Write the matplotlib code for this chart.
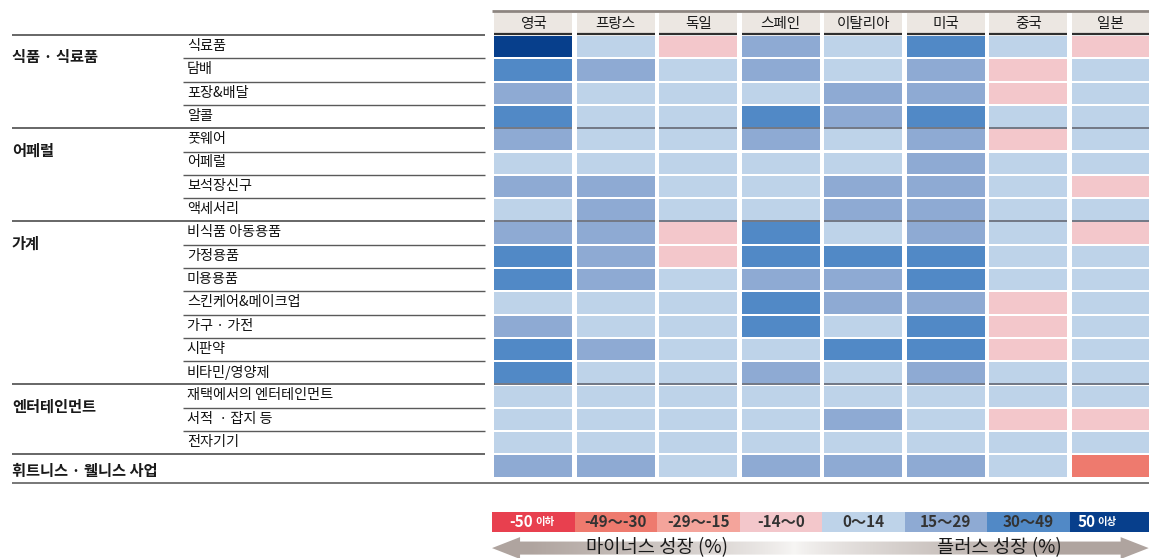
import numpy as np
import matplotlib.pyplot as plt
from matplotlib.patches import Polygon

plt.rcParams['font.family'] = ['Noto Sans CJK KR', 'DejaVu Sans']

countries = ['영국', '프랑스', '독일', '스페인', '이탈리아', '미국', '중국', '일본']

groups = ['식품 · 식료품', '어페럴', '가계', '엔터테인먼트', '휘트니스 · 웰니스 사업']
group_start = [0, 4, 8, 15, 18]

items = ['식료품', '담배', '포장&배달', '알콜',
         '풋웨어', '어페럴', '보석장신구', '액세서리',
         '비식품 아동용품', '가정용품', '미용용품', '스킨케어&메이크업', '가구 · 가전', '시판약', '비타민/영양제',
         '재택에서의 엔터테인먼트', '서적  · 잡지 등', '전자기기',
         '']

# growth class per item/country: 0 = -50이하 ... 7 = 50이상
growth_class = [
    [7, 4, 3, 5, 4, 6, 4, 3],
    [6, 5, 4, 5, 4, 5, 3, 4],
    [5, 4, 4, 4, 5, 5, 3, 4],
    [6, 4, 4, 6, 5, 6, 4, 4],
    [5, 4, 4, 5, 4, 5, 3, 4],
    [4, 4, 4, 4, 4, 5, 4, 4],
    [5, 5, 4, 4, 5, 5, 4, 3],
    [4, 5, 4, 4, 5, 5, 4, 4],
    [5, 5, 3, 6, 4, 5, 4, 3],
    [6, 5, 3, 6, 6, 6, 4, 4],
    [6, 5, 4, 5, 5, 6, 4, 4],
    [4, 4, 4, 6, 5, 5, 3, 4],
    [5, 4, 4, 6, 4, 6, 3, 4],
    [6, 5, 4, 4, 6, 6, 3, 4],
    [6, 4, 4, 5, 4, 5, 4, 4],
    [4, 4, 4, 4, 4, 4, 4, 4],
    [4, 4, 4, 4, 5, 4, 3, 3],
    [4, 4, 4, 4, 4, 4, 4, 4],
    [5, 5, 4, 5, 5, 5, 4, 1],
]

bin_labels = ['-50', '-49～-30', '-29～-15', '-14～0', '0～14', '15～29', '30～49', '50']
bin_suffix = ['이하', '', '', '', '', '', '', '이상']
bin_colors = ['#e8404f', '#ee7a6e', '#f4a49b', '#f3c7cb',
              '#bed3e9', '#8eaad3', '#5189c6', '#073f8c']

grid = np.array(growth_class)
n_rows, n_cols = grid.shape

fig = plt.figure(figsize=(11.49, 5.58), dpi=100)
ax = fig.add_axes([0, 0, 1, 1])
ax.axis('off')

# header
cols = np.arange(n_cols) + 0.5
ax.bar(cols, 0.87, bottom=-0.93, width=0.95, color='#ece7e2')
ax.hlines(-1.03, 0, 8, color='#8d8580', lw=2)
for j, name in enumerate(countries):
    ax.text(j + 0.5, -0.48, name, ha='center', va='center', fontsize=10.5,
            fontweight='medium', color='#1a1a1a')
    ax.hlines(-0.06, j + 0.025, j + 0.975, color='#2f2f2f', lw=1.6)

# heatmap cells
rows = np.arange(n_rows)
for j in range(n_cols):
    ax.bar(j + 0.5, 0.91, bottom=rows + 0.045, width=0.95,
           color=[bin_colors[c] for c in grid[:, j]])
    for k in group_start[1:4]:
        ax.hlines(k, j + 0.025, j + 0.975, color='#4d5566', lw=1.4, alpha=0.8)

# row labels and rule lines on the left
x_group, x_item, x_end = -5.82, -3.745, -0.085
for k in range(n_rows):
    if k in group_start:
        ax.hlines(k, x_group, x_end, color='#5a5a5a', lw=1.3)
    else:
        ax.hlines(k, x_item, x_end, color='#5a5a5a', lw=1.0)
    if items[k]:
        ax.text(-3.70, k + 0.47, items[k], ha='left', va='center', fontsize=10.2,
                fontweight='medium', color='#111111')
ax.hlines(19.23, x_group, 8, color='#777777', lw=1.4)
for g, s in zip(groups, group_start):
    y = s + 0.95 if s < 18 else s + 0.72
    ax.text(x_group, y, g, ha='left', va='center', fontsize=11,
            fontweight='bold', color='#1a1a1a')

# legend boxes
ax.bar(cols, 0.86, bottom=20.47, width=1.0, color=bin_colors)
for j, (lab, suf) in enumerate(zip(bin_labels, bin_suffix)):
    tc = 'white' if j in (0, 7) else '#333333'
    if suf:
        xc = j + 0.5 if j == 0 else j + 0.32
        ax.text(xc, 20.9, lab, ha='right', va='center', fontsize=11,
                fontweight='bold', color=tc)
        ax.text(xc + 0.02, 20.92, suf, ha='left', va='center', fontsize=7.5,
                fontweight='bold', color=tc)
    else:
        ax.text(j + 0.5, 20.9, lab, ha='center', va='center', fontsize=11,
                fontweight='bold', color='#333333')

# double arrow with gradient fill
yc, hh, sh, hl = 22.02, 0.47, 0.28, 0.34
x0, x1 = 0.0, 7.96
arrow = Polygon([(x0, yc), (x0 + hl, yc - hh), (x0 + hl, yc - sh), (x1 - hl, yc - sh),
                 (x1 - hl, yc - hh), (x1, yc), (x1 - hl, yc + hh), (x1 - hl, yc + sh),
                 (x0 + hl, yc + sh), (x0 + hl, yc + hh)], closed=True,
                facecolor='none', edgecolor='none')
ax.add_patch(arrow)
t = np.linspace(-1, 1, 400)
w = np.clip(np.abs(t + 0.08) * 1.25, 0, 1) ** 0.8
end_rgb = np.array([0.69, 0.645, 0.625])
mid_rgb = np.array([0.97, 0.965, 0.96])
grad = (mid_rgb[None, :] * (1 - w[:, None]) + end_rgb[None, :] * w[:, None])[None, :, :]
im = ax.imshow(grad, extent=(x0, x1, yc + hh, yc - hh), aspect='auto', zorder=1)
im.set_clip_path(arrow)
ax.text(2.0, yc - 0.04, '마이너스 성장 (%)', ha='center', va='center', fontsize=13.5,
        fontweight='medium', color='#1a1a1a', zorder=3)
ax.text(6.15, yc - 0.04, '플러스 성장 (%)', ha='center', va='center', fontsize=13.5,
        fontweight='medium', color='#1a1a1a', zorder=3)

ax.set_xlim(-492 / 82.5, (1149 - 492) / 82.5)
ax.set_ylim((558 - 35) / 23.3, -35 / 23.3)

fig.savefig('out.png', dpi=100, facecolor='white')
